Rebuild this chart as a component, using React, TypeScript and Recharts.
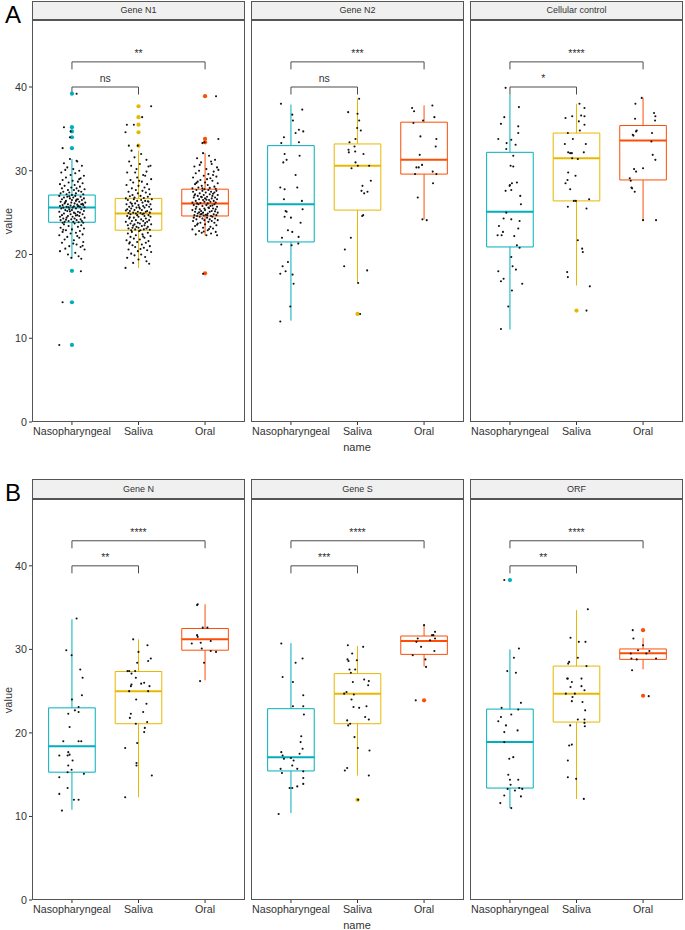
import React from 'react';
import { ComposedChart, XAxis, YAxis, Scatter, ReferenceArea, ReferenceLine, ReferenceDot } from 'recharts';

const FONT = '"Liberation Sans", Arial, sans-serif';
const groups = ['Nasopharyngeal', 'Saliva', 'Oral'];
const groupColors = ['#00AFBB', '#E7B800', '#FC4E07'];
const yTicks = [0, 10, 20, 30, 40];

// box stats per group: [lower whisker, q1, median, q3, upper whisker]
const n1Stats = [[19.5, 23.85, 25.6, 27.1, 31.4], [18.4, 22.9, 24.9, 26.7, 32.4], [22.3, 24.6, 26.1, 27.8, 32.1]];
const n2Stats = [[12.1, 21.5, 26.0, 33.0, 37.9], [16.6, 25.3, 30.6, 33.2, 38.6], [24.2, 29.6, 31.3, 35.8, 37.8]];
const ccStats = [[11.05, 20.9, 25.1, 32.2, 39.1], [16.3, 26.4, 31.5, 34.5, 38.0], [24.1, 28.9, 33.6, 35.4, 38.7]];
const nStats = [[10.8, 15.3, 18.4, 23.0, 33.6], [12.3, 21.1, 25.0, 27.35, 31.2], [26.3, 29.9, 31.2, 32.5, 35.4]];
const sStats = [[10.4, 15.45, 17.1, 22.9, 30.75], [14.9, 21.1, 24.7, 27.1, 30.4], [27.95, 29.4, 31.0, 31.6, 32.9]];
const orfStats = [[11.0, 13.4, 18.9, 22.85, 30.0], [12.1, 21.3, 24.7, 28.0, 34.7], [27.6, 28.8, 29.55, 30.05, 31.35]];

// outliers: [group, value]
const n1Outliers = [[1, 39.2], [1, 35.2], [1, 34.7], [1, 34.0], [1, 32.7], [1, 18.05], [1, 14.3], [1, 9.2], [2, 37.7], [2, 36.4], [2, 35.5], [2, 34.6], [2, 33.0], [3, 38.9], [3, 33.8], [3, 33.4], [3, 17.75]];
const n2Outliers = [[2, 12.9]];
const ccOutliers = [[2, 13.3]];
const nOutliers: number[][] = [];
const sOutliers = [[2, 12.0], [3, 23.9]];
const orfOutliers = [[1, 38.3], [3, 32.3], [3, 24.45]];

// significance labels: [Naso vs Saliva, Naso vs Oral]
const n1Sig = ['ns', '**'];
const n2Sig = ['ns', '***'];
const ccSig = ['*', '****'];
const nSig = ['**', '****'];
const sSig = ['***', '****'];
const orfSig = ['**', '****'];

// jittered observations: [x offset, value]
const n1Naso = [
  [-0.03, 31.4], [0.08, 31.1], [-0.12, 30.9], [0.15, 30.6], [-0.07, 30.4], [0.02, 30.2], [0.11, 30.0], [-0.16, 29.8], [0.05, 29.7], [-0.02, 29.5],
  [0.18, 29.4], [-0.09, 29.2], [0.13, 29.1], [-0.14, 28.9], [0.01, 28.8], [0.09, 28.7], [-0.05, 28.6], [0.16, 28.5], [-0.18, 28.4], [0.04, 28.3],
  [-0.11, 28.2], [0.12, 28.1], [-0.01, 28.0], [0.07, 27.9], [-0.15, 27.9], [0.19, 27.8], [-0.06, 27.7], [0.03, 27.7], [0.1, 27.6], [-0.13, 27.5],
  [0.14, 27.5], [-0.04, 27.4], [0.06, 27.3], [-0.17, 27.3], [0.17, 27.2], [-0.08, 27.2], [0.0, 27.1], [0.11, 29.0], [-0.1, 30.1], [0.07, 31.2],
  [-0.19, 27.0], [0.05, 27.0], [-0.07, 26.9], [0.13, 26.9], [0.02, 26.8], [-0.12, 26.8], [0.18, 26.7], [-0.03, 26.7], [0.09, 26.6], [-0.15, 26.6],
  [0.0, 26.5], [0.15, 26.5], [-0.09, 26.4], [0.06, 26.4], [-0.17, 26.3], [0.11, 26.3], [-0.01, 26.2], [0.2, 26.2], [-0.11, 26.1], [0.04, 26.1],
  [0.14, 26.0], [-0.06, 26.0], [0.08, 25.95], [-0.14, 25.9], [0.17, 25.9], [-0.02, 25.85], [0.1, 25.8], [-0.18, 25.8], [0.03, 25.75], [-0.08, 25.7],
  [0.12, 25.7], [-0.05, 25.65], [0.19, 25.65], [0.01, 25.6], [-0.13, 25.6], [0.07, 26.55], [-0.1, 26.25], [0.16, 26.05], [-0.04, 26.95], [0.09, 25.75],
  [-0.16, 25.5], [0.06, 25.5], [-0.04, 25.4], [0.14, 25.4], [0.0, 25.3], [-0.1, 25.3], [0.18, 25.2], [-0.07, 25.2], [0.09, 25.1], [-0.19, 25.1],
  [0.03, 25.0], [0.12, 25.0], [-0.12, 24.9], [0.05, 24.9], [-0.02, 24.8], [0.16, 24.8], [-0.15, 24.7], [0.08, 24.7], [-0.06, 24.6], [0.11, 24.6],
  [0.01, 24.5], [-0.18, 24.5], [0.19, 24.4], [-0.08, 24.4], [0.04, 24.3], [-0.13, 24.3], [0.13, 24.2], [-0.01, 24.2], [0.07, 24.1], [-0.17, 24.1],
  [0.15, 24.0], [-0.05, 24.0], [0.02, 23.9], [-0.11, 23.9], [0.1, 23.85], [-0.14, 23.8], [0.17, 23.8], [-0.03, 25.15], [0.06, 24.65], [-0.09, 24.15],
  [0.04, 23.7], [-0.12, 23.6], [0.14, 23.5], [-0.05, 23.4], [0.09, 23.3], [-0.17, 23.2], [0.18, 23.1], [0.0, 23.0], [-0.09, 22.9], [0.12, 22.8],
  [-0.14, 22.7], [0.06, 22.6], [-0.02, 22.5], [0.16, 22.4], [-0.19, 22.3], [0.08, 22.2], [-0.07, 22.1], [0.11, 22.0], [-0.11, 21.8], [0.03, 21.7],
  [0.17, 21.5], [-0.15, 21.4], [0.07, 21.2], [-0.04, 21.0], [0.13, 20.9], [-0.1, 20.7], [0.19, 20.6], [-0.18, 20.4], [0.05, 20.2], [-0.06, 20.0],
  [0.1, 19.8], [-0.01, 19.6], [0.14, 19.5], [-0.13, 22.95], [0.02, 21.3], [0.16, 21.05],
  [0.07, 39.2], [-0.12, 35.2], [-0.02, 34.7], [-0.03, 34.0], [-0.14, 32.7], [0.135, 18.0], [-0.14, 14.3], [-0.19, 9.2],
];
const n1Saliva = [
  [-0.105, 32.4], [0.04, 32.0], [-0.06, 31.6], [0.12, 31.3], [-0.14, 31.1], [0.02, 30.8], [0.15, 30.5], [0.18, 30.6], [-0.17, 29.8], [-0.05, 29.8],
  [0.07, 29.5], [0.1, 29.4], [-0.02, 29.2], [0.19, 29.0], [-0.12, 28.9], [0.05, 28.7], [-0.08, 28.6], [0.13, 28.4], [-0.18, 28.3], [0.0, 28.2],
  [0.09, 28.0], [-0.1, 27.9], [0.16, 27.8], [-0.04, 27.7], [0.06, 27.6], [-0.15, 27.5], [0.11, 27.4], [-0.01, 27.3], [0.17, 27.2], [-0.09, 27.1],
  [0.03, 27.0], [-0.13, 26.95], [0.14, 26.9], [-0.06, 26.8], [0.08, 26.75], [-0.19, 26.7], [0.01, 28.8], [-0.03, 30.2], [0.12, 29.9], [-0.11, 30.6],
  [0.2, 26.6], [-0.07, 26.6], [0.04, 26.5], [-0.16, 26.5], [0.1, 26.4], [-0.02, 26.4], [0.15, 26.3], [-0.12, 26.2], [0.06, 26.2], [-0.05, 26.1],
  [0.18, 26.0], [-0.18, 26.0], [0.0, 25.9], [0.12, 25.9], [-0.09, 25.8], [0.07, 25.8], [-0.14, 25.7], [0.16, 25.7], [-0.03, 25.6], [0.09, 25.6],
  [-0.11, 25.5], [0.02, 25.5], [0.19, 25.4], [-0.17, 25.4], [0.05, 25.3], [-0.06, 25.3], [0.13, 25.2], [-0.13, 25.2], [-0.01, 25.1], [0.11, 25.1],
  [-0.08, 25.0], [0.17, 25.0], [0.03, 24.95], [-0.15, 24.95], [0.08, 24.9], [-0.04, 24.9], [0.14, 26.35], [-0.1, 26.05], [0.01, 25.65], [-0.19, 25.25],
  [0.06, 24.8], [-0.12, 24.8], [0.15, 24.7], [-0.02, 24.7], [0.09, 24.6], [-0.17, 24.6], [0.0, 24.5], [0.18, 24.5], [-0.07, 24.4], [0.11, 24.3],
  [-0.14, 24.3], [0.04, 24.2], [-0.04, 24.1], [0.16, 24.1], [-0.1, 24.0], [0.07, 24.0], [-0.19, 23.9], [0.13, 23.9], [-0.01, 23.8], [0.02, 23.7],
  [-0.12, 23.7], [0.19, 23.6], [-0.06, 23.6], [0.09, 23.5], [-0.16, 23.5], [0.05, 23.4], [-0.03, 23.3], [0.14, 23.3], [-0.09, 23.2], [0.0, 23.2],
  [0.12, 23.1], [-0.15, 23.1], [0.08, 23.0], [-0.05, 23.0], [0.17, 22.95], [-0.11, 22.9], [0.03, 22.9], [-0.13, 24.45], [0.1, 23.75], [-0.08, 23.45],
  [0.01, 22.8], [-0.1, 22.7], [0.14, 22.6], [-0.16, 22.5], [0.06, 22.4], [-0.04, 22.3], [0.18, 22.2], [-0.12, 22.1], [0.09, 22.0], [-0.07, 21.9],
  [0.02, 21.8], [-0.18, 21.7], [0.15, 21.6], [-0.02, 21.5], [0.11, 21.4], [-0.14, 21.3], [0.05, 21.2], [-0.09, 21.1], [0.17, 21.0], [-0.05, 20.9],
  [0.08, 20.8], [-0.15, 20.6], [0.13, 20.5], [-0.01, 20.4], [0.19, 20.3], [-0.11, 20.1], [0.04, 20.0], [-0.06, 19.9], [0.1, 19.7], [-0.17, 19.6],
  [0.0, 19.4], [0.12, 19.2], [-0.08, 19.0], [0.16, 18.9], [-0.195, 18.4], [0.07, 22.15], [-0.13, 21.45], [0.03, 20.65],
  [0.19, 37.7], [0.055, 36.4], [-0.175, 35.5], [-0.07, 35.5], [-0.195, 34.6], [-0.145, 33.0], [-0.01, 33.0],
];
const n1Oral = [
  [-0.03, 32.1], [0.06, 31.8], [-0.12, 31.5], [0.15, 31.3], [-0.06, 31.0], [0.1, 30.8], [-0.16, 30.5], [0.18, 30.4], [0.02, 30.2], [-0.09, 30.0],
  [0.13, 29.9], [-0.14, 29.7], [0.05, 29.6], [-0.02, 29.4], [0.17, 29.3], [-0.18, 29.2], [0.08, 29.1], [-0.07, 28.9], [0.11, 28.8], [-0.11, 28.7],
  [0.0, 28.6], [0.19, 28.5], [-0.15, 28.4], [0.04, 28.3], [-0.05, 28.2], [0.14, 28.1], [-0.1, 28.0], [0.07, 27.95], [-0.19, 27.9], [0.16, 27.85],
  [-0.01, 27.8], [0.12, 29.5], [-0.08, 30.7], [0.09, 31.1], [-0.13, 28.55], [0.03, 29.0], [0.2, 30.1], [-0.04, 27.9],
  [0.05, 27.7], [-0.13, 27.7], [0.17, 27.6], [-0.04, 27.6], [0.09, 27.5], [-0.18, 27.5], [0.01, 27.4], [0.14, 27.4], [-0.08, 27.3], [0.07, 27.2],
  [-0.15, 27.2], [0.19, 27.1], [-0.02, 27.1], [0.11, 27.0], [-0.11, 27.0], [0.03, 26.9], [-0.06, 26.9], [0.15, 26.8], [-0.17, 26.8], [0.0, 26.7],
  [0.1, 26.7], [-0.09, 26.6], [0.18, 26.6], [-0.03, 26.5], [0.06, 26.5], [-0.14, 26.4], [0.13, 26.4], [-0.01, 26.3], [0.08, 26.3], [-0.19, 26.2],
  [0.16, 26.2], [-0.07, 26.15], [0.04, 26.1], [-0.12, 26.1], [0.12, 27.25], [-0.05, 26.85], [0.02, 26.55], [-0.16, 27.05],
  [0.14, 26.0], [-0.1, 26.0], [0.02, 25.9], [-0.17, 25.9], [0.08, 25.8], [-0.04, 25.8], [0.18, 25.7], [-0.13, 25.7], [0.05, 25.6], [-0.01, 25.5],
  [0.12, 25.5], [-0.08, 25.4], [0.16, 25.4], [-0.19, 25.3], [0.0, 25.3], [0.1, 25.2], [-0.06, 25.2], [0.07, 25.1], [-0.15, 25.1], [0.19, 25.0],
  [-0.03, 25.0], [0.04, 24.9], [-0.11, 24.9], [0.13, 24.8], [-0.07, 24.8], [0.01, 24.75], [-0.16, 24.7], [0.17, 24.7], [-0.02, 24.65], [0.09, 24.6],
  [-0.12, 24.6], [0.06, 25.55], [-0.09, 25.05], [0.15, 25.15], [-0.05, 24.85], [0.11, 25.85], [-0.14, 25.45], [0.03, 24.7],
  [-0.08, 24.5], [0.11, 24.5], [-0.17, 24.4], [0.03, 24.4], [0.15, 24.3], [-0.04, 24.3], [0.07, 24.2], [-0.13, 24.2], [0.19, 24.1], [-0.01, 24.1],
  [0.1, 24.0], [-0.18, 24.0], [0.05, 23.9], [-0.07, 23.8], [0.14, 23.8], [-0.11, 23.7], [0.0, 23.6], [0.17, 23.5], [-0.15, 23.4], [0.08, 23.3],
  [-0.03, 23.2], [0.12, 23.1], [-0.19, 23.0], [0.04, 22.9], [-0.09, 22.8], [0.16, 22.7], [-0.05, 22.6], [0.09, 22.5], [-0.14, 22.4], [0.02, 22.3],
  [0.18, 22.3], [-0.12, 23.55], [0.06, 23.05], [-0.02, 22.75],
  [0.165, 38.9], [0.2, 33.8], [-0.04, 33.3], [-0.01, 33.4], [-0.03, 17.7],
];

const n2Naso = [
  [-0.15, 38.0], [0.17, 37.3], [0.02, 36.7], [0.03, 36.0], [0.12, 34.9], [0.185, 34.7], [0.07, 34.5], [-0.105, 34.0], [-0.145, 33.3], [0.12, 33.4],
  [-0.095, 32.0], [0.13, 31.8], [-0.065, 31.3], [-0.115, 31.0], [0.07, 29.5], [-0.16, 28.0], [-0.095, 27.8], [0.095, 28.0], [-0.105, 26.6], [0.165, 26.4],
  [0.175, 25.4], [-0.08, 25.2], [-0.065, 25.1], [-0.095, 24.5], [0, 24.4], [0.145, 23.8], [-0.045, 22.9], [0.02, 22.7], [-0.135, 22.0], [0.115, 22.1],
  [-0.145, 21.2], [0.01, 21.1], [0.11, 21.3], [-0.045, 19.1], [-0.125, 18.6], [-0.16, 17.7], [-0.08, 18.0], [0.025, 17.6], [0.04, 16.5], [-0.01, 13.8],
  [-0.16, 12.0],
];
const n2Saliva = [
  [0.025, 38.6], [-0.14, 37.0], [0, 36.8], [0.025, 36.0], [-0.005, 35.1], [0.05, 34.8], [-0.03, 33.8], [-0.12, 33.4], [-0.045, 32.9], [-0.135, 32.5],
  [-0.035, 32.3], [-0.13, 32.2], [0.09, 32.0], [-0.03, 31.0], [0.005, 30.6], [0.175, 30.6], [-0.09, 30.3], [0.2, 28.8], [0.075, 28.2], [0.06, 27.6],
  [0.1, 27.3], [0.15, 27.5], [0.085, 24.7], [0.07, 24.6], [-0.1, 22.0], [-0.19, 20.6], [-0.2, 18.6], [0.145, 18.1], [0.01, 16.6], [0.04, 12.9],
];
const n2Oral = [
  [0.125, 37.8], [-0.18, 37.5], [-0.15, 37.1], [0.155, 36.4], [-0.015, 36.0], [-0.16, 35.7], [-0.055, 34.1], [0.185, 33.8], [0.175, 32.9], [-0.065, 31.9],
  [-0.115, 30.4], [-0.08, 30.4], [-0.03, 30.7], [-0.135, 29.6], [0.13, 29.9], [0.185, 29.6], [0.135, 28.5], [-0.095, 26.8], [-0.025, 24.2], [0.04, 24.1],
];

const ccNaso = [
  [-0.065, 39.9], [0.135, 37.6], [-0.085, 36.4], [-0.135, 35.6], [0.125, 35.3], [0.125, 34.5], [-0.175, 33.8], [0.02, 33.7], [-0.05, 33.3], [0.085, 33.1],
  [-0.055, 32.6], [0.05, 31.8], [0.01, 30.6], [0.05, 30.5], [0.105, 28.6], [0.03, 28.5], [0, 28.3], [-0.005, 28.2], [-0.065, 27.6], [0.02, 27.7],
  [0.155, 27.0], [0.165, 26.0], [-0.055, 25.0], [-0.095, 24.3], [0.02, 24.2], [0.145, 24.0], [-0.165, 23.4], [0.125, 23.1], [-0.105, 22.7], [-0.185, 22.3],
  [-0.125, 22.3], [0.065, 22.2], [0.105, 21.1], [0.145, 20.8], [0.02, 19.7], [0.04, 18.6], [0.09, 18.2], [-0.175, 18.0], [-0.095, 17.1], [-0.135, 16.8],
  [0.03, 15.7], [0.185, 16.5], [-0.025, 13.8], [-0.135, 11.1],
];
const ccSaliva = [
  [0.045, 38.0], [0.12, 37.5], [-0.165, 36.3], [-0.065, 36.5], [0.07, 36.6], [0.12, 36.5], [0.035, 35.9], [0.12, 35.5], [0.05, 34.8], [-0.13, 34.5],
  [-0.055, 33.8], [-0.175, 33.2], [0.14, 33.2], [-0.125, 32.2], [-0.095, 32.1], [-0.07, 32.1], [0.11, 32.2], [-0.065, 31.5], [0.02, 31.4], [-0.125, 29.8],
  [-0.015, 29.4], [-0.135, 28.9], [-0.165, 28.5], [-0.095, 27.8], [-0.04, 26.4], [-0.01, 26.4], [0.19, 26.6], [-0.13, 25.7], [0.15, 25.5], [0.02, 21.7],
  [0.085, 20.7], [0.095, 20.3], [-0.14, 17.9], [-0.13, 17.3], [0.2, 16.2], [0.15, 13.3],
];
const ccOral = [
  [-0.02, 38.7], [-0.115, 38.0], [0.165, 36.9], [0.185, 36.5], [-0.12, 36.2], [0.18, 36.0], [-0.095, 34.8], [-0.105, 34.7], [-0.155, 34.3], [-0.145, 34.2],
  [0.135, 34.5], [0.125, 33.5], [0.145, 31.9], [0.185, 31.3], [0, 30.3], [-0.135, 30.2], [-0.105, 29.9], [-0.2, 29.1], [-0.185, 28.8], [-0.175, 28.0],
  [-0.165, 27.9], [-0.125, 27.5], [0, 24.1], [0.195, 24.1],
];

const nNaso = [
  [0.07, 33.7], [-0.085, 29.9], [-0.005, 29.3], [0.125, 27.6], [0.16, 26.6], [0.15, 24.5], [0, 24.0], [0.1, 23.1], [0.045, 22.7], [0.1, 22.5],
  [-0.055, 22.3], [-0.035, 20.7], [-0.13, 19.0], [0.1, 19.0], [0.14, 19.0], [-0.055, 17.7], [-0.19, 17.3], [-0.035, 17.4], [-0.065, 17.3], [0.01, 16.7],
  [-0.055, 16.1], [-0.005, 15.6], [-0.065, 15.3], [0.18, 15.1], [-0.19, 14.7], [-0.065, 13.4], [-0.19, 12.7], [0.03, 12.0], [0.1, 12.0], [-0.15, 10.7],
];
const nSaliva = [
  [-0.08, 31.2], [0.135, 30.5], [0, 29.7], [0.185, 28.9], [0.145, 28.6], [-0.02, 28.4], [-0.165, 27.4], [-0.14, 27.4], [-0.05, 27.4], [-0.105, 27.1],
  [-0.04, 26.6], [-0.105, 25.8], [-0.115, 25.6], [0.085, 26.0], [0.04, 25.9], [0.165, 25.6], [-0.14, 25.0], [0.145, 25.0], [-0.035, 24.0], [0.12, 23.5],
  [-0.115, 22.3], [-0.13, 21.8], [0.07, 22.5], [0.13, 21.3], [-0.04, 21.1], [0.095, 20.6], [0.085, 20.1], [-0.02, 18.8], [-0.2, 18.2], [-0.03, 16.4],
  [-0.03, 16.1], [0.2, 14.9], [-0.2, 12.3],
];
const nOral = [
  [-0.11, 35.4], [-0.12, 35.3], [-0.035, 32.6], [0.035, 32.6], [-0.12, 31.7], [-0.11, 31.5], [0.085, 31.0], [-0.2, 30.7], [-0.065, 30.8], [-0.05, 30.1],
  [0.085, 29.8], [0.165, 29.7], [-0.015, 28.4], [-0.075, 26.2],
];

const sNaso = [
  [-0.145, 30.7], [0.175, 28.9], [0.07, 28.4], [-0.125, 26.7], [0.03, 26.1], [0.185, 24.5], [0.185, 23.2], [0.03, 23.2], [0.195, 22.2], [0.155, 19.6],
  [0.145, 18.9], [0.175, 18.1], [0.13, 17.5], [-0.145, 17.7], [-0.125, 17.3], [-0.105, 16.9], [0, 17.0], [0.04, 16.7], [0.02, 16.1], [0.095, 15.7],
  [-0.155, 15.7], [-0.135, 15.2], [0.185, 15.4], [0.185, 14.6], [0.185, 13.9], [0.095, 13.6], [-0.02, 13.4], [0.02, 13.4], [-0.185, 10.3],
];
const sSaliva = [
  [-0.145, 30.5], [0.085, 30.3], [-0.08, 29.5], [-0.15, 28.8], [-0.135, 28.6], [-0.01, 28.7], [-0.12, 27.6], [-0.035, 27.6], [-0.1, 27.2], [0.1, 26.4],
  [0.17, 26.2], [-0.07, 26.1], [0.16, 25.7], [-0.2, 24.7], [-0.165, 24.9], [-0.055, 24.6], [-0.09, 24.0], [-0.06, 23.1], [0.025, 23.0], [0.135, 23.2],
  [0.115, 21.9], [0.17, 21.6], [-0.155, 21.5], [-0.14, 20.9], [-0.11, 21.1], [-0.045, 19.5], [0.005, 18.2], [0.18, 17.9], [-0.155, 15.8], [-0.19, 15.5],
  [0.17, 14.9], [0.01, 12.0],
];
const sOral = [
  [0, 32.9], [0.165, 32.1], [0.12, 31.7], [0.14, 31.7], [-0.095, 31.3], [0.165, 31.3], [-0.115, 30.9], [0.09, 31.1], [-0.045, 30.3], [0.155, 29.8],
  [-0.17, 29.3], [0.02, 28.8], [0.03, 27.9], [-0.125, 23.9],
];

const orfNaso = [
  [-0.085, 38.3], [0.135, 30.1], [0.06, 29.0], [-0.04, 27.4], [0.09, 27.2], [0.165, 23.6], [-0.125, 23.0], [0.125, 22.8], [0.02, 22.2], [-0.135, 21.9],
  [-0.175, 21.4], [-0.06, 20.9], [0.115, 20.3], [-0.085, 20.1], [-0.085, 18.9], [-0.01, 16.9], [0.05, 17.1], [-0.025, 15.0], [0, 14.4], [0.125, 14.4],
  [0.01, 13.8], [-0.035, 13.3], [0.075, 13.1], [0.14, 13.4], [0.185, 13.3], [-0.085, 12.5], [0.165, 12.4], [-0.145, 11.6], [0.02, 11.0],
];
const orfSaliva = [
  [0.17, 34.8], [-0.09, 31.4], [0.035, 30.9], [0.135, 30.9], [0.02, 29.0], [-0.11, 28.5], [-0.125, 28.3], [0.15, 28.0], [-0.14, 26.5], [-0.13, 26.5],
  [0.075, 26.5], [-0.07, 26.1], [-0.09, 25.5], [0.075, 25.6], [0.12, 25.1], [-0.16, 24.7], [-0.025, 24.7], [-0.06, 24.3], [-0.07, 23.8], [0.09, 23.7],
  [0.13, 22.7], [0.02, 21.6], [0.12, 21.6], [0.12, 21.2], [0.125, 20.8], [-0.095, 20.9], [-0.11, 18.5], [-0.07, 18.6], [-0.13, 16.7], [-0.13, 14.7],
  [-0.005, 14.5], [0.11, 12.1],
];
const orfOral = [
  [-0.155, 32.3], [-0.145, 31.3], [0, 30.5], [-0.075, 29.9], [0.095, 29.8], [-0.185, 29.5], [0.05, 29.5], [-0.175, 28.9], [-0.095, 28.8], [0.195, 28.9],
  [-0.165, 27.5], [0.085, 24.4],
];

const PANEL_W = 213;
const Y_AXIS_W = 32;
const BOX_HALF = 0.35;
const panelLefts = [32, 251, 470];
const rowA = { stripTop: 1, plotTop: 20, plotH: 402 };
const rowB = { stripTop: 479, plotTop: 499, plotH: 401 };
const BORDER = '#555555';
const TEXT = '#333333';

const dot = (r: number, fill: string) => (p: any) => <circle cx={p.cx} cy={p.cy} r={r} fill={fill} />;

const sigText = (label: string) => (p: any) => (
  <text x={p.cx} y={p.cy} textAnchor="middle" fontSize={10.5} fill={TEXT} fontFamily={FONT}>{label}</text>
);

interface PanelProps {
  title: string;
  stats: number[][];
  points: number[][][];
  outliers: number[][];
  sig: string[];
  left: number;
  row: { stripTop: number; plotTop: number; plotH: number };
  showY: boolean;
}

const Panel = ({ title, stats, points, outliers, sig, left, row, showY }: PanelProps) => {
  const yw = showY ? Y_AXIS_W : 0;
  const bracket = '#4d4d4d';
  return (
    <>
      <div
        style={{
          position: 'absolute', left, top: row.stripTop, width: PANEL_W, height: row.plotTop - row.stripTop,
          boxSizing: 'border-box', border: `1px solid ${BORDER}`, background: '#F0F0F0',
          fontSize: 9, color: TEXT, textAlign: 'center', lineHeight: `${row.plotTop - row.stripTop - 2}px`,
        }}
      >
        {title}
      </div>
      <div style={{ position: 'absolute', left: left - yw, top: row.plotTop }}>
        <ComposedChart width={PANEL_W + yw} height={row.plotH + 30} margin={{ top: 0, right: 0, bottom: 0, left: 0 }}>
          <XAxis
            type="number" dataKey="x" domain={[0.4, 3.6]} ticks={[1, 2, 3]} allowDataOverflow interval={0}
            tickFormatter={(v: number) => groups[Math.round(v) - 1]}
            axisLine={false} tickLine={{ stroke: TEXT }} tickSize={3} tickMargin={2} height={30}
            tick={{ fontSize: 10.7, fill: TEXT, fontFamily: FONT }}
          />
          <YAxis
            type="number" dataKey="y" domain={[0, 48]} ticks={yTicks} allowDataOverflow interval={0}
            hide={!showY} width={Y_AXIS_W} axisLine={false} tickLine={{ stroke: TEXT }} tickSize={3} tickMargin={2}
            tick={{ fontSize: 10.7, fill: TEXT, fontFamily: FONT }}
          />
          {stats.map((s, i) => {
            const g = i + 1;
            const c = groupColors[i];
            return (
              <React.Fragment key={`box${i}`}>
                <ReferenceLine segment={[{ x: g, y: s[3] }, { x: g, y: s[4] }]} stroke={c} strokeWidth={1} />
                <ReferenceLine segment={[{ x: g, y: s[0] }, { x: g, y: s[1] }]} stroke={c} strokeWidth={1} />
                <ReferenceArea x1={g - BOX_HALF} x2={g + BOX_HALF} y1={s[1]} y2={s[3]} stroke={c} strokeWidth={1} fill="none" fillOpacity={0} />
                <ReferenceLine segment={[{ x: g - BOX_HALF, y: s[2] }, { x: g + BOX_HALF, y: s[2] }]} stroke={c} strokeWidth={2} />
              </React.Fragment>
            );
          })}
          <ReferenceLine segment={[{ x: 1, y: 40 }, { x: 2, y: 40 }]} stroke={bracket} strokeWidth={1} />
          <ReferenceLine segment={[{ x: 1, y: 40 }, { x: 1, y: 39.1 }]} stroke={bracket} strokeWidth={1} />
          <ReferenceLine segment={[{ x: 2, y: 40 }, { x: 2, y: 39.1 }]} stroke={bracket} strokeWidth={1} />
          <ReferenceLine segment={[{ x: 1, y: 43 }, { x: 3, y: 43 }]} stroke={bracket} strokeWidth={1} />
          <ReferenceLine segment={[{ x: 1, y: 43 }, { x: 1, y: 42.1 }]} stroke={bracket} strokeWidth={1} />
          <ReferenceLine segment={[{ x: 3, y: 43 }, { x: 3, y: 42.1 }]} stroke={bracket} strokeWidth={1} />
          <ReferenceDot x={1.5} y={40.6} r={0} shape={sigText(sig[0])} />
          <ReferenceDot x={2} y={43.6} r={0} shape={sigText(sig[1])} />
          {groups.map((_, i) => (
            <Scatter
              key={`out${i}`}
              data={outliers.filter((o) => o[0] === i + 1).map((o) => ({ x: o[0], y: o[1] }))}
              shape={dot(2.1, groupColors[i])}
              isAnimationActive={false}
            />
          ))}
          {points.map((pts, i) => (
            <Scatter
              key={`pts${i}`}
              data={pts.map((p) => ({ x: i + 1 + p[0], y: p[1] }))}
              shape={dot(1.05, '#111111')}
              isAnimationActive={false}
            />
          ))}
        </ComposedChart>
      </div>
      <div
        style={{
          position: 'absolute', left, top: row.plotTop, width: PANEL_W, height: row.plotH,
          boxSizing: 'border-box', border: `1px solid ${BORDER}`, pointerEvents: 'none',
        }}
      />
    </>
  );
};

const RowLabels = ({ letter, row }: { letter: string; row: { stripTop: number; plotTop: number; plotH: number } }) => (
  <>
    <div style={{ position: 'absolute', left: 5, top: row.stripTop + 2, fontSize: 24, color: '#000', lineHeight: '24px' }}>{letter}</div>
    <div
      style={{
        position: 'absolute', left: 8 - 30, top: row.plotTop + row.plotH / 2 - 7, width: 60, height: 14,
        fontSize: 11, color: TEXT, textAlign: 'center', lineHeight: '14px', transform: 'rotate(-90deg)',
      }}
    >
      value
    </div>
    <div
      style={{
        position: 'absolute', left: 357 - 30, top: row.plotTop + row.plotH + 18, width: 60, height: 14,
        fontSize: 11, color: TEXT, textAlign: 'center', lineHeight: '14px',
      }}
    >
      name
    </div>
  </>
);

export default function App() {
  return (
    <div style={{ position: 'absolute', left: 0, top: 0, width: 685, height: 930, background: '#fff', fontFamily: FONT, overflow: 'hidden' }}>
      <RowLabels letter="A" row={rowA} />
      <Panel title="Gene N1" stats={n1Stats} points={[n1Naso, n1Saliva, n1Oral]} outliers={n1Outliers} sig={n1Sig} left={panelLefts[0]} row={rowA} showY />
      <Panel title="Gene N2" stats={n2Stats} points={[n2Naso, n2Saliva, n2Oral]} outliers={n2Outliers} sig={n2Sig} left={panelLefts[1]} row={rowA} showY={false} />
      <Panel title="Cellular control" stats={ccStats} points={[ccNaso, ccSaliva, ccOral]} outliers={ccOutliers} sig={ccSig} left={panelLefts[2]} row={rowA} showY={false} />
      <RowLabels letter="B" row={rowB} />
      <Panel title="Gene N" stats={nStats} points={[nNaso, nSaliva, nOral]} outliers={nOutliers} sig={nSig} left={panelLefts[0]} row={rowB} showY />
      <Panel title="Gene S" stats={sStats} points={[sNaso, sSaliva, sOral]} outliers={sOutliers} sig={sSig} left={panelLefts[1]} row={rowB} showY={false} />
      <Panel title="ORF" stats={orfStats} points={[orfNaso, orfSaliva, orfOral]} outliers={orfOutliers} sig={orfSig} left={panelLefts[2]} row={rowB} showY={false} />
    </div>
  );
}
